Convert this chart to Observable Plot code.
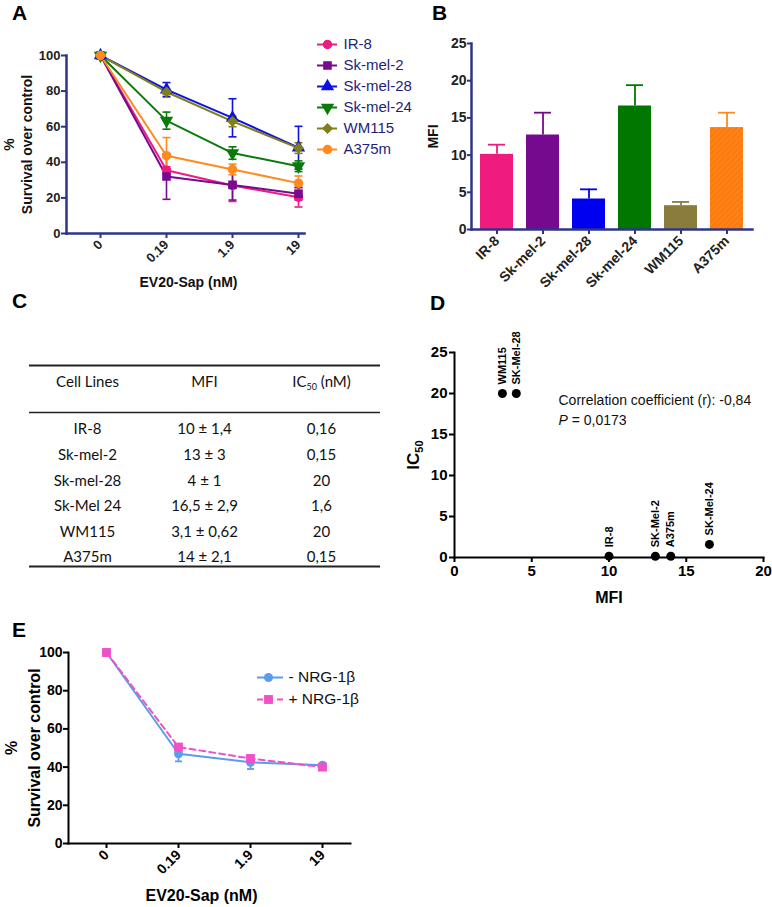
<!DOCTYPE html>
<html>
<head>
<meta charset="utf-8">
<script src="https://cdn.jsdelivr.net/npm/d3@7"></script>
<script src="https://cdn.jsdelivr.net/npm/@observablehq/plot@0.6"></script>
<style>
html,body{margin:0;padding:0;background:#fff;}
#fig{position:relative;width:772px;height:907px;overflow:hidden;background:#fff;font-family:"Liberation Sans",Arial,sans-serif;}
.letter{position:absolute;font-weight:bold;font-size:21px;line-height:21px;color:#000;}
</style>
</head>
<body>
<div id="fig"></div>
<script>
// ---------------- data ----------------
const doses = ["0", "0.19", "1.9", "19"];
const cellLines = ["IR-8", "Sk-mel-2", "Sk-mel-28", "Sk-mel-24", "WM115", "A375m"];

const survIR8     = [100, 35.5, 27.0, 20.4];
const errIR8      = [0, 2.0, 9.0, 5.5];
const survSkMel2  = [100, 32.0, 27.3, 22.3];
const errSkMel2   = [0, 12.8, 8.5, 3.5];
const survSkMel28 = [100, 80.8, 65.0, 48.2];
const errSkMel28  = [0, 4.0, 10.7, 12.0];
const survSkMel24 = [100, 63.4, 45.2, 37.8];
const errSkMel24  = [0, 4.8, 3.5, 3.0];
const survWM115   = [100, 79.5, 63.0, 48.0];
const errWM115    = [0, 1.5, 3.0, 3.0];
const survA375m   = [100, 43.7, 36.0, 28.3];
const errA375m    = [0, 10.2, 3.0, 4.0];

const mfiMean = [10.1, 12.7, 4.1, 16.6, 3.2, 13.7];
const mfiErr  = [1.3, 3.0, 1.3, 2.8, 0.5, 2.0];

const tableHeader = ["Cell Lines", "MFI", "IC50 (nM)"];
const tableCellLines = ["IR-8", "Sk-mel-2", "Sk-mel-28", "Sk-Mel 24", "WM115", "A375m"];
const tableMFI = ["10 ± 1,4", "13 ± 3", "4 ± 1", "16,5 ± 2,9", "3,1 ± 0,62", "14 ± 2,1"];
const tableIC50 = ["0,16", "0,15", "20", "1,6", "20", "0,15"];

const scatterNames = ["WM115", "SK-Mel-28", "IR-8", "SK-Mel-2", "A375m", "SK-Mel-24"];
const scatterMFI  = [3.1, 4, 10, 13, 14, 16.5];
const scatterIC50 = [20, 20, 0.16, 0.15, 0.15, 1.6];
const correlationText = "Correlation coefficient (r): -0,84";
const pValueText = "P = 0,0173";

const nrgSeries = ["- NRG-1β", "+ NRG-1β"];
const survMinusNRG = [100, 47.0, 42.5, 41.0];
const errMinusNRG  = [0, 4.0, 3.5, 0.6];
const survPlusNRG  = [100, 50.5, 44.5, 40.0];
const errPlusNRG   = [0, 1.2, 1.2, 0.8];

const yTicksA = [0, 20, 40, 60, 80, 100];
const yTicksB = [0, 5, 10, 15, 20, 25];
const xTicksD = [0, 5, 10, 15, 20];
const yTicksD = [0, 5, 10, 15, 20, 25];
const yTicksE = [0, 20, 40, 60, 80, 100];

// ---------------- styles ----------------
const FONT = '"Liberation Sans", Arial, Helvetica, sans-serif';
const NAVY = "#2E3488";
const colorsA = ["#EC1C80", "#770A8F", "#0A12E8", "#0A7A0A", "#7F7F1C", "#FF8A1E"];
const colorsB = ["#F01B7E", "#760A8E", "#0000F0", "#007800", "#8A7C3D", "url(#hatchA375m)"];
const errColorsB = ["#F01B7E", "#760A8E", "#0000F0", "#007800", "#8A7C3D", "#FF8A1E"];
const nrgColors = ["#5B9CEB", "#F050C8"];

const triangleDown = {
  draw(context, size) {
    const s3 = Math.sqrt(3);
    const y = -Math.sqrt(size / (s3 * 3));
    context.moveTo(0, -y * 2);
    context.lineTo(-s3 * y, y);
    context.lineTo(s3 * y, y);
    context.closePath();
  }
};
// horizontal error-bar cap, half-width equal to the dot radius
const capSymbol = {
  draw(context, size) {
    const w = Math.sqrt(size / Math.PI);
    context.moveTo(-w, 0);
    context.lineTo(w, 0);
  }
};
const symbolsA = ["circle", "square", "triangle", triangleDown, "diamond2", "circle"];

const fig = document.getElementById("fig");
function place(node, left, top) {
  node.style.position = "absolute";
  node.style.left = left + "px";
  node.style.top = top + "px";
  fig.appendChild(node);
  return node;
}
function letter(t, left, top) {
  const d = document.createElement("div");
  d.className = "letter";
  d.textContent = t;
  d.style.left = left + "px";
  d.style.top = top + "px";
  fig.appendChild(d);
}
const baseStyle = {fontFamily: FONT, background: "none", overflow: "visible", color: "#000"};

function subscriptify(svg, full, base, sub, rest, subSize, shift) {
  d3.select(svg).selectAll("text").filter(function () { return this.textContent === full; })
    .each(function () {
      const t = d3.select(this);
      t.text(null);
      t.append("tspan").text(base);
      t.append("tspan").attr("font-size", subSize).attr("dy", shift).text(sub);
      if (rest) t.append("tspan").attr("dy", -shift).text(rest);
    });
}
const yTitle = (t, dx, size, fill) => Plot.text([t], {text: d => d, frameAnchor: "left", dx, rotate: -90, textAnchor: "middle", lineAnchor: "middle", fontSize: size, fontWeight: "bold", fill});
const xTitle = (t, dx, dy, size, fill) => Plot.text([t], {text: d => d, frameAnchor: "bottom", dx, dy, textAnchor: "middle", lineAnchor: "middle", fontSize: size, fontWeight: "bold", fill});

// ---------------- Panel A ----------------
const survA = [survIR8, survSkMel2, survSkMel28, survSkMel24, survWM115, survA375m];
const errA = [errIR8, errSkMel2, errSkMel28, errSkMel24, errWM115, errA375m];
const rowsA = cellLines.flatMap((name, s) => doses.map((dose, i) => ({name, dose, v: survA[s][i], e: errA[s][i]})));
const errRowsA = rowsA.filter(d => d.e > 0);

const plotA = Plot.plot({
  width: 310, height: 290,
  marginLeft: 66, marginRight: 6, marginTop: 55, marginBottom: 57,
  style: baseStyle,
  x: {type: "point", domain: doses, range: [99, 298], padding: 0},
  y: {domain: [0, 100]},
  color: {domain: cellLines, range: colorsA},
  symbol: {domain: cellLines, range: symbolsA},
  marks: [
    Plot.ruleX(errRowsA, {x: "dose", y1: d => d.v - d.e, y2: d => d.v + d.e, stroke: "name", strokeWidth: 1.6}),
    Plot.dot(errRowsA, {x: "dose", y: d => d.v + d.e, symbol: capSymbol, r: 4, fill: "none", stroke: "name", strokeWidth: 1.6}),
    Plot.dot(errRowsA, {x: "dose", y: d => d.v - d.e, symbol: capSymbol, r: 4, fill: "none", stroke: "name", strokeWidth: 1.6}),
    Plot.line(rowsA, {x: "dose", y: "v", z: "name", stroke: "name", strokeWidth: 2}),
    Plot.dot(rowsA, {x: "dose", y: "v", symbol: "name", fill: "name", stroke: "name", r: 4}),
    Plot.frame({anchor: "left", stroke: NAVY, strokeWidth: 2.5}),
    Plot.frame({anchor: "bottom", stroke: NAVY, strokeWidth: 2.5}),
    Plot.axisY({ticks: yTicksA, tickSize: 5, tickPadding: 1, stroke: NAVY, strokeWidth: 2, fill: "#222", fontSize: 13, fontWeight: "bold", label: null}),
    Plot.axisX({tickSize: 5, tickPadding: 4, tickRotate: -45, stroke: NAVY, strokeWidth: 2, fill: "#222", fontSize: 13, fontWeight: "bold", label: null}),
    yTitle("%", -57, 14, "#111"),
    yTitle("Survival over control", -39, 14, "#111"),
    xTitle("EV20-Sap (nM)", 3, 49, 14, "#111")
  ]
});
place(plotA, 0, 0);

// ---------------- Panel B ----------------
const barsB = cellLines.map((name, i) => ({name, v: mfiMean[i], e: mfiErr[i], c: colorsB[i], ec: errColorsB[i]}));
const plotB = Plot.plot({
  width: 372, height: 290,
  marginLeft: 71, marginRight: 20, marginTop: 43, marginBottom: 61,
  style: baseStyle,
  x: {domain: cellLines, paddingInner: 0.29, paddingOuter: 0.17},
  y: {domain: [0, 25]},
  color: {type: "identity"},
  marks: [
    Plot.ruleX(barsB, {x: "name", y1: "v", y2: d => d.v + d.e, stroke: "ec", strokeWidth: 1.8}),
    Plot.tickY(barsB, {x: "name", y: d => d.v + d.e, stroke: "ec", strokeWidth: 1.8, inset: 8}),
    Plot.barY(barsB, {x: "name", y: "v", fill: "c"}),
    Plot.frame({anchor: "left", stroke: NAVY, strokeWidth: 2.5}),
    Plot.frame({anchor: "bottom", stroke: NAVY, strokeWidth: 2.5}),
    Plot.axisY({ticks: yTicksB, tickSize: 4, tickPadding: 1, stroke: NAVY, strokeWidth: 2, fill: "#222", fontSize: 14, fontWeight: "bold", label: null}),
    Plot.axisX({tickSize: 5, tickPadding: 4, tickRotate: -45, stroke: NAVY, strokeWidth: 2, fill: "#222", fontSize: 14, fontWeight: "bold", label: null}),
    yTitle("MFI", -38, 14, "#111")
  ]
});
{
  const defs = d3.select(plotB).insert("defs", ":first-child");
  const pat = defs.append("pattern").attr("id", "hatchA375m").attr("patternUnits", "userSpaceOnUse")
    .attr("width", 4).attr("height", 4).attr("patternTransform", "rotate(45)");
  pat.append("rect").attr("width", 4).attr("height", 4).attr("fill", "#FF8216");
  pat.append("line").attr("x1", 0).attr("y1", 0).attr("x2", 0).attr("y2", 4).attr("stroke", "#F26A00").attr("stroke-width", 1.2);
}
place(plotB, 400, 0);

// ---------------- Legend A ----------------
const legA = Plot.plot({
  width: 110, height: 130, margin: 0,
  style: baseStyle,
  x: {domain: [0, 110], range: [0, 110], axis: null},
  y: {type: "point", domain: cellLines, range: [14, 119], padding: 0, axis: null},
  color: {domain: cellLines, range: colorsA},
  symbol: {domain: cellLines, range: symbolsA},
  marks: [
    Plot.ruleY(cellLines, {y: d => d, x1: 12, x2: 32, stroke: d => d, strokeWidth: 2}),
    Plot.dot(cellLines, {x: 22, y: d => d, symbol: d => d, fill: d => d, stroke: d => d, r: 4}),
    Plot.text(cellLines, {x: 38, y: d => d, text: d => d, textAnchor: "start", fill: "#1E1E78", fontSize: 15})
  ]
});
place(legA, 305, 30);

// ---------------- Panel C (table) ----------------
const colKeys = ["cell", "mfi", "ic50"];
const rowsC = tableCellLines.map((cell, i) => ({cell, mfi: tableMFI[i], ic50: tableIC50[i], row: i}));
const TABLE_FONT = 'Lato, "Open Sans", sans-serif';
const plotC = Plot.plot({
  width: 400, height: 320,
  marginLeft: 29, marginRight: 20, marginTop: 0, marginBottom: 0,
  style: baseStyle,
  x: {type: "point", domain: colKeys, range: [87, 321], padding: 0, axis: null},
  y: {domain: [-2.5, 5.35], range: [75, 276], axis: null},
  marks: [
    Plot.ruleY([-2.5, 5.35], {stroke: "#222", strokeWidth: 2}),
    Plot.ruleY([-0.664], {stroke: "#222", strokeWidth: 1.7}),
    Plot.text(tableHeader, {x: (d, i) => colKeys[i], y: -1.84, text: d => d, fontFamily: TABLE_FONT, fontSize: 15, fill: "#111"}),
    ...colKeys.map(k => Plot.text(rowsC, {x: () => k, y: "row", text: k, fontFamily: TABLE_FONT, fontSize: 15, fill: "#111"}))
  ]
});
subscriptify(plotC, "IC50 (nM)", "IC", "50", " (nM)", 9, 3);
place(plotC, 0, 290);

// ---------------- Panel D ----------------
const ptsD = scatterNames.map((name, i) => ({name, x: scatterMFI[i], y: scatterIC50[i]}));
const plotD = Plot.plot({
  width: 372, height: 330,
  marginLeft: 54, marginRight: 9, marginTop: 62, marginBottom: 63,
  style: baseStyle,
  x: {domain: [0, 20]},
  y: {domain: [0, 25]},
  marks: [
    Plot.frame({anchor: "left", stroke: "#000", strokeWidth: 2}),
    Plot.frame({anchor: "bottom", stroke: "#000", strokeWidth: 2}),
    Plot.axisX({ticks: xTicksD, tickSize: 5, tickPadding: 3, stroke: "#000", strokeWidth: 2, fill: "#000", fontSize: 15, fontWeight: "bold", label: null}),
    Plot.axisY({ticks: yTicksD, tickSize: 5, tickPadding: 2, stroke: "#000", strokeWidth: 2, fill: "#000", fontSize: 15, fontWeight: "bold", label: null}),
    Plot.dot(ptsD, {x: "x", y: "y", r: 4.5, fill: "#000"}),
    Plot.text(ptsD, {x: "x", y: "y", text: "name", rotate: -90, textAnchor: "start", dy: -9, fontSize: 11, fontWeight: "bold", fill: "#000"}),
    Plot.text([correlationText], {x: 6.73, y: 19.15, text: d => d, textAnchor: "start", fontSize: 14, fill: "#111"}),
    Plot.text([pValueText], {x: 6.73, y: 16.7, text: d => d, textAnchor: "start", fontSize: 14, fill: "#111"}),
    yTitle("IC50", -41, 17, "#000"),
    xTitle("MFI", 0, 40, 16, "#000")
  ]
});
subscriptify(plotD, "IC50", "IC", "50", null, 11, 4);
d3.select(plotD).selectAll("text").filter(function () { return this.textContent === pValueText; })
  .each(function () {
    const t = d3.select(this);
    t.text(null);
    t.append("tspan").attr("font-style", "italic").text("P");
    t.append("tspan").text(pValueText.slice(1));
  });
place(plotD, 400, 290);

// ---------------- Panel E ----------------
const survE = [survMinusNRG, survPlusNRG];
const errE = [errMinusNRG, errPlusNRG];
const rowsE = nrgSeries.flatMap((s, k) => doses.map((dose, i) => ({s, dose, v: survE[k][i], e: errE[k][i]})));
const minusE = rowsE.filter(d => d.s === nrgSeries[0]);
const plusE = rowsE.filter(d => d.s === nrgSeries[1]);
const minusErrE = minusE.filter(d => d.e > 0);
const plotE = Plot.plot({
  width: 400, height: 297,
  marginLeft: 68, marginRight: 50, marginTop: 42, marginBottom: 64,
  style: baseStyle,
  x: {type: "point", domain: doses, range: [105, 322], padding: 0},
  y: {domain: [0, 100]},
  color: {domain: nrgSeries, range: nrgColors},
  marks: [
    Plot.ruleX(minusErrE, {x: "dose", y1: d => d.v - d.e, y2: d => d.v + d.e, stroke: "s", strokeWidth: 1.8}),
    Plot.dot(minusErrE, {x: "dose", y: d => d.v - d.e, symbol: capSymbol, r: 3.5, fill: "none", stroke: "s", strokeWidth: 1.8}),
    Plot.dot(minusErrE, {x: "dose", y: d => d.v + d.e, symbol: capSymbol, r: 3.5, fill: "none", stroke: "s", strokeWidth: 1.8}),
    Plot.line(minusE, {x: "dose", y: "v", stroke: "s", strokeWidth: 2}),
    Plot.dot(minusE, {x: "dose", y: "v", fill: "s", r: 4.5}),
    Plot.ruleX(plusE.filter(d => d.e > 0), {x: "dose", y1: d => d.v - d.e, y2: d => d.v + d.e, stroke: "s", strokeWidth: 1.8}),
    Plot.line(plusE, {x: "dose", y: "v", stroke: "s", strokeWidth: 2, strokeDasharray: "6,4"}),
    Plot.dot(plusE, {x: "dose", y: "v", fill: "s", symbol: "square", r: 5}),
    Plot.frame({anchor: "left", stroke: "#000", strokeWidth: 2}),
    Plot.frame({anchor: "bottom", stroke: "#000", strokeWidth: 2}),
    Plot.axisY({ticks: yTicksE, tickSize: 5, tickPadding: 1, stroke: "#000", strokeWidth: 2, fill: "#000", fontSize: 14, fontWeight: "bold", label: null}),
    Plot.axisX({tickSize: 5, tickPadding: 4, tickRotate: -45, stroke: "#000", strokeWidth: 2, fill: "#000", fontSize: 14, fontWeight: "bold", label: null}),
    yTitle("%", -57, 16, "#000"),
    yTitle("Survival over control", -34, 16, "#000"),
    xTitle("EV20-Sap (nM)", -8, 52, 16, "#000")
  ]
});
place(plotE, 0, 610);

// ---------------- Legend E ----------------
const legE = Plot.plot({
  width: 140, height: 50, margin: 0,
  style: baseStyle,
  x: {domain: [0, 140], range: [0, 140], axis: null},
  y: {type: "point", domain: nrgSeries, range: [15, 37], padding: 0, axis: null},
  color: {domain: nrgSeries, range: nrgColors},
  marks: [
    Plot.ruleY([nrgSeries[0]], {y: d => d, x1: 7, x2: 33, stroke: d => d, strokeWidth: 2}),
    Plot.ruleY([nrgSeries[1]], {y: d => d, x1: 7, x2: 33, stroke: d => d, strokeWidth: 2, strokeDasharray: "6,4"}),
    Plot.dot([nrgSeries[0]], {x: 18, y: d => d, fill: d => d, r: 4.5}),
    Plot.dot([nrgSeries[1]], {x: 18, y: d => d, fill: d => d, symbol: "square", r: 5}),
    Plot.text(nrgSeries, {x: 38, y: d => d, text: d => d, textAnchor: "start", fontSize: 15.5, fill: "#111"})
  ]
});
place(legE, 250, 662);

// ---------------- panel letters ----------------
letter("A", 12, 2);
letter("B", 432, 2);
letter("C", 12, 290);
letter("D", 430, 292);
letter("E", 12, 619);
</script>
</body>
</html>
